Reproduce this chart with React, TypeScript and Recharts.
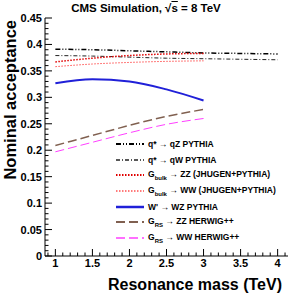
import { LineChart, Line, XAxis, YAxis, Legend, Label } from "recharts";

const masses = [1, 1.5, 2, 2.5, 3, 3.5, 4];
const qstarQZ = [0.391, 0.39, 0.388, 0.386, 0.384, 0.383, 0.382];
const qstarQW = [0.379, 0.378, 0.376, 0.374, 0.373, 0.372, 0.371];
const gbulkZZ = [0.367, 0.374, 0.379, 0.382, 0.383, null, null];
const gbulkWW = [0.358, 0.363, 0.366, 0.368, 0.369, null, null];
const wprimeWZ = [0.3265, 0.334, 0.33, 0.315, 0.294, null, null];
const grsZZ = [0.209, 0.228, 0.247, 0.264, 0.277, null, null];
const grsWW = [0.197, 0.215, 0.233, 0.249, 0.26, null, null];

const xMajor = ["1", "1.5", "2", "2.5", "3", "3.5", "4"];
const yMajor = ["0", "0.05", "0.1", "0.15", "0.2", "0.25", "0.3", "0.35", "0.4", "0.45"];

const data = masses.map((m, i) => ({
  mass: m,
  qZ: qstarQZ[i],
  qW: qstarQW[i],
  bZZ: gbulkZZ[i],
  bWW: gbulkWW[i],
  wp: wprimeWZ[i],
  rZZ: grsZZ[i],
  rWW: grsWW[i],
}));

// minor ticks every 0.1 on x, 0.01 on y
const xTicks: number[] = [];
for (let i = 9; i <= 41; i++) xTicks.push(i / 10);
const yTicks: number[] = [];
for (let i = 0; i <= 45; i++) yTicks.push(i / 100);

const FONT = "'Liberation Sans', Arial, Helvetica, sans-serif";

const series = [
  { key: "qZ", name: ["q* \u2192 qZ PYTHIA"], color: "#000", dash: "5 2 1 2 1 2", w: 1.5 },
  { key: "qW", name: ["q* \u2192 qW PYTHIA"], color: "#222", dash: "4 2 1 2", w: 1 },
  { key: "bZZ", name: ["G", "bulk", " \u2192 ZZ (JHUGEN+PYTHIA)"], color: "#e00000", dash: "1.5 1.5", w: 1.5 },
  { key: "bWW", name: ["G", "bulk", " \u2192 WW (JHUGEN+PYTHIA)"], color: "#ff5050", dash: "1.5 1.5", w: 1 },
  { key: "wp", name: ["W' \u2192 WZ PYTHIA"], color: "#2020d8", dash: undefined, w: 2 },
  { key: "rZZ", name: ["G", "RS", " \u2192 ZZ HERWIG++"], color: "#806050", dash: "9 4", w: 1.5 },
  { key: "rWW", name: ["G", "RS", " \u2192 WW HERWIG++"], color: "#ff40ff", dash: "9 4", w: 1 },
];

const XTick = (props: any) => {
  const { x, y, payload } = props;
  const v = payload.value;
  const label = xMajor.find((t) => Math.abs(Number(t) - v) < 1e-6);
  return (
    <g>
      <line x1={x} x2={x} y1={y} y2={y - (label ? 7 : 3.5)} stroke="#000" strokeWidth={1} />
      {label && (
        <text x={x} y={y + 11} textAnchor="middle" fontSize={11} fontWeight="bold" fontFamily={FONT} fill="#000">
          {label}
        </text>
      )}
    </g>
  );
};

const YTick = (props: any) => {
  const { x, y, payload } = props;
  const v = payload.value;
  const label = yMajor.find((t) => Math.abs(Number(t) - v) < 1e-6);
  return (
    <g>
      <line x1={x} x2={x + (label ? 7 : 3.5)} y1={y} y2={y} stroke="#000" strokeWidth={1} />
      {label && (
        <text x={x - 3} y={y + 4} textAnchor="end" fontSize={11} fontWeight="bold" fontFamily={FONT} fill="#000">
          {label}
        </text>
      )}
    </g>
  );
};

const renderLegend = () => (
  <div style={{ fontFamily: FONT, fontWeight: "bold", fontSize: 8.5, color: "#000" }}>
    {series.map((s) => (
      <div key={s.key} style={{ display: "flex", alignItems: "center", height: 15.7 }}>
        <svg width={30} height={6} style={{ marginRight: 3 }}>
          <line x1={1} x2={29} y1={3} y2={3} stroke={s.color} strokeWidth={s.w + 0.5} strokeDasharray={s.dash} />
        </svg>
        <span>
          {s.name[0]}
          {s.name.length > 1 && <sub style={{ fontSize: 6 }}>{s.name[1]}</sub>}
          {s.name.length > 2 && s.name[2]}
        </span>
      </div>
    ))}
  </div>
);

const YLabel = () => (
  <text
    transform="translate(16, 20) rotate(-90)"
    textAnchor="end"
    fontSize={16.5}
    fontWeight="bold"
    fontFamily={FONT}
    fill="#000"
  >
    Nominal acceptance
  </text>
);

export default function App() {
  return (
    <div style={{ position: "absolute", left: 0, top: 0, width: 292, height: 296, background: "#fff" }}>
      <div
        style={{
          position: "absolute",
          left: 0,
          width: 292,
          top: 2,
          textAlign: "center",
          fontFamily: FONT,
          fontWeight: "bold",
          fontSize: 11.5,
        }}
      >
        CMS Simulation, √<span style={{ textDecoration: "overline" }}>s</span> = 8 TeV
      </div>
      <LineChart width={292} height={296} data={data} margin={{ top: 18, right: 4, left: 0, bottom: 0 }}>
        <XAxis
          dataKey="mass"
          type="number"
          domain={[0.86, 4.14]}
          ticks={xTicks}
          interval={0}
          tick={<XTick />}
          tickLine={false}
          tickSize={0}
          tickMargin={0}
          height={40}
          stroke="#000"
        >
          <Label
            value="Resonance mass (TeV)"
            position="insideBottomRight"
            offset={6}
            style={{ fontSize: 16, fontWeight: "bold", fontFamily: FONT, fill: "#000" }}
          />
        </XAxis>
        <YAxis
          type="number"
          domain={[0, 0.45]}
          ticks={yTicks}
          interval={0}
          tick={<YTick />}
          tickLine={false}
          tickSize={0}
          tickMargin={0}
          width={45}
          stroke="#000"
          allowDataOverflow
        >
          <Label content={<YLabel />} />
        </YAxis>
        <XAxis xAxisId="top" orientation="top" type="number" domain={[0.86, 4.14]} tick={false} height={0} stroke="#000" />
        <YAxis yAxisId="right" orientation="right" domain={[0, 0.45]} tick={false} width={0} stroke="#000" />
        {series.map((s) => (
          <Line
            key={s.key}
            dataKey={s.key}
            type="monotone"
            stroke={s.color}
            strokeWidth={s.w}
            strokeDasharray={s.dash}
            dot={false}
            activeDot={false}
            connectNulls={false}
            isAnimationActive={false}
          />
        ))}
        <Legend
          layout="vertical"
          align="center"
          verticalAlign="middle"
          content={renderLegend}
          wrapperStyle={{ position: "absolute", left: 115, top: 136, width: 175, height: 112 }}
        />
      </LineChart>
    </div>
  );
}
